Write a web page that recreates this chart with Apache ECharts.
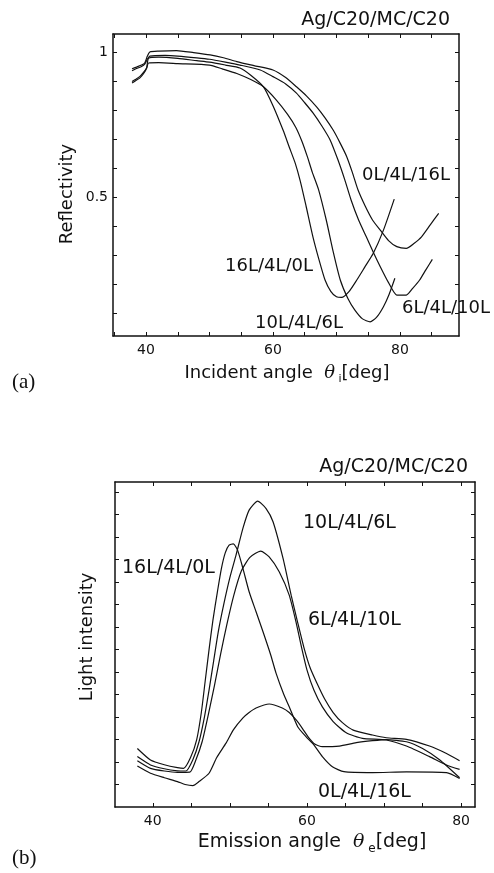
<!DOCTYPE html>
<html>
<head>
<meta charset="utf-8">
<script src="https://cdn.jsdelivr.net/npm/echarts@6/dist/echarts.min.js"></script>
<style>
  html, body { margin: 0; padding: 0; background: #fff; }
  #chart { width: 494px; height: 873px; }
</style>
</head>
<body>
<div id="chart"></div>
<script>
// (a) reflectivity vs incident angle, [deg, R]
const refl_0_4_16 = [[37.8,0.942],[38.5,0.948],[39.3,0.955],[39.8,0.962],[40.2,0.985],[40.6,1.0],[42,1.003],[44.8,1.005],[47.5,0.998],[50.1,0.99],[52.2,0.98],[54.3,0.967],[57,0.953],[60,0.938],[62,0.912],[63.7,0.88],[65.3,0.848],[66.9,0.81],[68.2,0.773],[69.5,0.73],[70.6,0.685],[71.6,0.64],[72.5,0.585],[73.4,0.524],[74.5,0.47],[75.7,0.42],[76.9,0.386],[78.2,0.35],[79.5,0.329],[81,0.323],[82.2,0.34],[83.4,0.363],[84.8,0.405],[86.1,0.444]];
const refl_6_4_10 = [[37.8,0.935],[38.5,0.943],[39.3,0.95],[39.8,0.958],[40.2,0.975],[40.6,0.986],[43,0.988],[45,0.986],[48,0.98],[50,0.975],[52.5,0.965],[54.8,0.955],[58,0.938],[60,0.915],[62,0.89],[63.7,0.858],[65,0.825],[66.3,0.79],[67.7,0.745],[69,0.697],[70.2,0.63],[71.3,0.56],[72.3,0.49],[73.5,0.42],[74.7,0.363],[75.8,0.31],[76.9,0.26],[78.2,0.205],[79.5,0.162],[81,0.162],[82,0.185],[83.1,0.214],[84.1,0.25],[85.1,0.285]];
const refl_16_4_0 = [[37.8,0.893],[38.3,0.9],[39,0.91],[39.6,0.925],[40.1,0.945],[40.4,0.978],[42,0.982],[45,0.978],[48,0.97],[50,0.965],[52.5,0.955],[54.8,0.945],[56.5,0.92],[58.5,0.88],[60,0.815],[61.6,0.73],[62.6,0.67],[63.5,0.617],[64.3,0.555],[65.2,0.47],[66.3,0.362],[67.3,0.28],[68.2,0.214],[69.1,0.175],[70,0.156],[70.8,0.154],[72,0.175],[73.2,0.214],[74.5,0.26],[75.8,0.306],[77.4,0.386],[79.1,0.493]];
const refl_10_4_6 = [[37.8,0.898],[38.3,0.905],[39,0.915],[39.6,0.93],[40.1,0.945],[40.4,0.962],[42,0.963],[45,0.96],[50,0.955],[52,0.942],[54.3,0.926],[56.5,0.905],[58.5,0.88],[60.5,0.835],[62.3,0.785],[63.6,0.74],[64.6,0.69],[65.4,0.64],[66.2,0.585],[67.2,0.524],[68.4,0.42],[69.5,0.31],[70.6,0.214],[71.8,0.15],[72.9,0.11],[74.1,0.08],[75.3,0.07],[76.3,0.085],[77.4,0.122],[78.3,0.165],[79.2,0.22]];

// (b) light intensity (arb.) vs emission angle, [deg, I]
const emis_16_4_0 = [[38,2.6],[39.7,2.09],[41.5,1.88],[43.2,1.75],[44,1.72],[44.9,2.2],[45.7,3.0],[46.3,4.2],[46.8,5.6],[47.3,7.0],[47.8,8.3],[48.4,9.6],[48.9,10.6],[49.4,11.3],[49.9,11.64],[50.45,11.7],[51,11.42],[51.7,10.6],[52.5,9.57],[53.4,8.68],[54.3,7.79],[55.3,6.76],[56,5.94],[57,5.0],[57.7,4.46],[58.8,3.57],[59.9,3.12],[60.9,2.76],[62,2.24],[63.3,1.79],[64.8,1.57],[68.5,1.53],[72.9,1.56],[78.1,1.53],[79.8,1.27]];
const emis_10_4_6 = [[38,2.24],[39.7,1.87],[41.5,1.7],[43.2,1.61],[44.3,1.6],[45.2,2.1],[46,2.9],[46.7,4.0],[47.3,5.2],[47.9,6.5],[48.5,7.8],[49.2,9.0],[50,10.2],[50.8,11.2],[51.7,12.4],[52.5,13.2],[53.6,13.6],[54.7,13.27],[55.6,12.68],[56.9,11.05],[57.95,9.42],[58.8,8.2],[59.6,7.1],[60.4,6.2],[61.3,5.5],[62.3,4.8],[63.4,4.2],[64.6,3.75],[66,3.42],[68.5,3.2],[70.3,3.08],[72.9,3.01],[75.9,2.71],[78.1,2.38],[79.8,2.06]];
const emis_6_4_10 = [[38,2.06],[39.7,1.72],[41.5,1.6],[43.2,1.54],[44.8,1.55],[45.6,2.1],[46.4,2.9],[47.2,4.1],[48,5.4],[48.8,6.8],[49.6,8.1],[50.5,9.4],[51.5,10.5],[52.6,11.1],[54,11.38],[55.1,11.12],[56.4,10.46],[57.7,9.42],[58.6,8.2],[59.3,7.1],[60,6.1],[60.9,5.2],[62,4.45],[63.4,3.8],[65.1,3.3],[67.2,3.05],[70.3,2.98],[72.9,2.71],[75.9,2.24],[78.1,1.87],[79.8,1.67]];
const emis_0_4_16 = [[38,1.82],[39.7,1.5],[41.5,1.3],[43.2,1.13],[44.2,1.0],[45.2,0.95],[46,1.13],[47.3,1.5],[48.3,2.2],[49.5,2.84],[50.5,3.45],[51.7,3.96],[52.5,4.2],[53.4,4.4],[55.1,4.58],[56.8,4.4],[57.7,4.2],[58.6,3.87],[59.4,3.5],[60.2,3.1],[61,2.8],[62,2.68],[64.2,2.71],[66.4,2.86],[68.5,2.95],[70.3,3.0],[72.9,2.9],[75,2.6],[77.2,2.1],[79.8,1.3]];

// ticks and labels
const angleTicks = [35, 40, 45, 50, 55, 60, 65, 70, 75, 80, 85];
const angleLabels = [40, 60, 80];
const reflTicks = [0.1, 0.2, 0.3, 0.4, 0.5, 0.6, 0.7, 0.8, 0.9, 1.0];
const reflLabels = [0.5, 1];
const intensityTicks = [1, 2, 3, 4, 5, 6, 7, 8, 9, 10, 11, 12, 13, 14];

const FONT = "DejaVu Sans";
const INK = "#111";

function frameAxes(grid, xr, yr, xTicks, xLabels, yTicks, yLabels) {
  const line = { show: true, onZero: false, lineStyle: { color: INK, width: 1.5 } };
  const tick = (vals) => ({ show: true, inside: true, length: 4, customValues: vals, lineStyle: { color: INK, width: 1 } });
  const label = (vals, margin) => vals
    ? { show: true, customValues: vals, color: INK, fontFamily: FONT, fontSize: 14, margin }
    : { show: false };
  return {
    x: [
      { type: "value", gridIndex: grid, min: xr[0], max: xr[1], axisLine: line, axisTick: tick(xTicks), axisLabel: label(xLabels, 7), splitLine: { show: false } },
      { type: "value", gridIndex: grid, position: "top", min: xr[0], max: xr[1], axisLine: line, axisTick: tick(xTicks), axisLabel: { show: false }, splitLine: { show: false } },
    ],
    y: [
      { type: "value", gridIndex: grid, min: yr[0], max: yr[1], axisLine: line, axisTick: tick(yTicks), axisLabel: label(yLabels, 5), splitLine: { show: false } },
      { type: "value", gridIndex: grid, position: "right", min: yr[0], max: yr[1], axisLine: line, axisTick: tick(yTicks), axisLabel: { show: false }, splitLine: { show: false } },
    ],
  };
}

const axA = frameAxes(0, [34.8, 89.3], [0.021, 1.062], angleTicks, angleLabels, reflTicks, reflLabels);
const axB = frameAxes(1, [35.1, 81.8], [0, 14.45], angleTicks, angleLabels, intensityTicks, null);

function curve(data, xi, yi) {
  return {
    type: "line", data, xAxisIndex: xi, yAxisIndex: yi,
    showSymbol: false, smooth: 0.2, silent: true,
    lineStyle: { color: INK, width: 1.2 },
  };
}

function txt(x, y, text, size, opts = {}) {
  const align = opts.align || "left";
  return {
    type: "text", x, y, rotation: opts.rotation || 0,
    style: {
      text, fill: INK,
      font: `${opts.weight || "normal"} ${size}px ${opts.family || FONT}`,
      align, textAlign: align,
      verticalAlign: "middle", textVerticalAlign: "middle",
      rich: opts.rich,
    },
  };
}

function angleRich(size) {
  return {
    n: { fontFamily: FONT, fontSize: size, lineHeight: size + 6, color: INK },
    t: { fontFamily: "DejaVu Serif", fontStyle: "italic", fontSize: size, lineHeight: size + 6, color: INK },
    s: { fontFamily: FONT, fontSize: size - 7, verticalAlign: "bottom", color: INK },
  };
}

const chart = echarts.init(document.getElementById("chart"), null, { renderer: "canvas" });
chart.setOption({
  animation: false,
  backgroundColor: "#fff",
  grid: [
    { left: 113, top: 34, width: 346, height: 302 },
    { left: 115, top: 482, width: 360, height: 325 },
  ],
  xAxis: [...axA.x, ...axB.x],
  yAxis: [...axA.y, ...axB.y],
  series: [
    curve(refl_0_4_16, 0, 0),
    curve(refl_6_4_10, 0, 0),
    curve(refl_16_4_0, 0, 0),
    curve(refl_10_4_6, 0, 0),
    curve(emis_16_4_0, 2, 2),
    curve(emis_10_4_6, 2, 2),
    curve(emis_6_4_10, 2, 2),
    curve(emis_0_4_16, 2, 2),
  ],
  graphic: [
    // panel (a)
    txt(450, 20, "Ag/C20/MC/C20", 19, { align: "right" }),
    txt(67, 194, "Reflectivity", 18, { align: "center", rotation: Math.PI / 2 }),
    txt(287, 373, "{n|Incident angle  }{t|θ}{s| i}{n|[deg]}", 18, { align: "center", rich: angleRich(18) }),
    txt(12, 382, "(a)", 21, { family: "Liberation Serif" }),
    txt(362, 175, "0L/4L/16L", 18),
    txt(225, 266, "16L/4L/0L", 18),
    txt(255, 323, "10L/4L/6L", 18),
    txt(402, 308, "6L/4L/10L", 18),
    // panel (b)
    txt(468, 467, "Ag/C20/MC/C20", 19, { align: "right" }),
    txt(87, 637, "Light intensity", 18, { align: "center", rotation: Math.PI / 2 }),
    txt(312, 842, "{n|Emission angle  }{t|θ}{s| e}{n|[deg]}", 19, { align: "center", rich: angleRich(19) }),
    txt(12, 858, "(b)", 21, { family: "Liberation Serif" }),
    txt(303, 523, "10L/4L/6L", 19),
    txt(122, 568, "16L/4L/0L", 19),
    txt(308, 620, "6L/4L/10L", 19),
    txt(318, 792, "0L/4L/16L", 19),
  ],
});
</script>
</body>
</html>
